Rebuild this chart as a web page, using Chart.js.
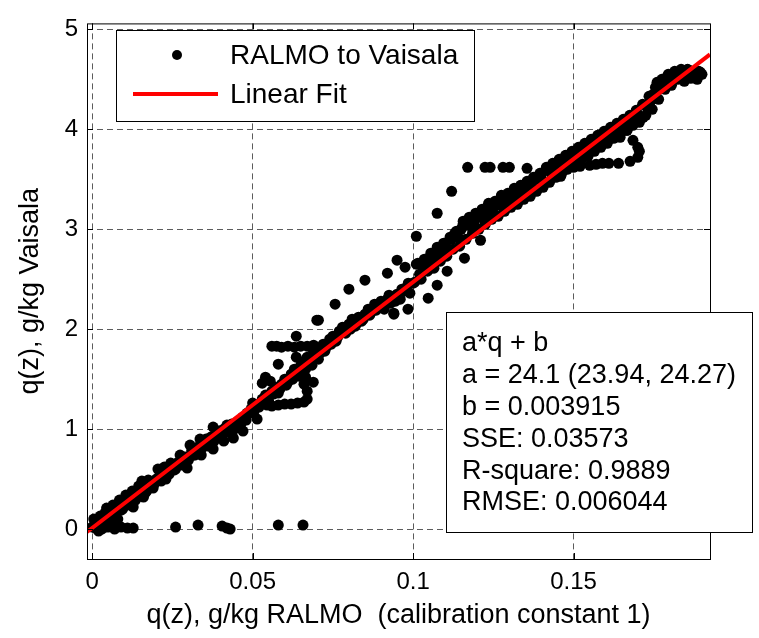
<!DOCTYPE html>
<html>
<head>
<meta charset="utf-8">
<script src="https://cdn.jsdelivr.net/npm/chart.js@4.4.1/dist/chart.umd.min.js"></script>
<style>
  html, body { margin: 0; padding: 0; background: #fff; }
  canvas { display: block; }
</style>
</head>
<body>
<canvas id="fitChart" width="759" height="638"></canvas>
<script>
// RALMO q(z) (x) against Vaisala q(z) (y)
const qRalmo = [
  // dense band 0 - 0.05
  0.000,0.001,0.002,0.003,0.004,0.005,0.006,0.007,0.008,0.009,0.010,0.011,0.012,0.013,0.014,0.015,0.016,0.017,0.018,0.019,
  0.020,0.021,0.022,0.023,0.024,0.025,0.026,0.027,0.028,0.029,0.030,0.031,0.032,0.033,0.034,0.035,0.036,0.037,0.038,0.039,
  0.040,0.041,0.042,0.043,0.044,0.045,0.046,0.047,0.048,0.049,
  0.0005,0.0025,0.0045,0.0065,0.0085,0.0105,0.0125,0.0145,0.0155,0.0175,0.0205,0.0225,0.0245,0.0274,0.0305,0.0336,0.0377,0.0420,0.0483,
  0.002,0.004,0.006,0.008,0.0128,0.016,0.019,0.023,0.0296,0.034,0.0377,0.041,0.044,0.047,
  0.0015,0.0035,0.0055,0.0075,0.0095,0.0115,0.0135,0.0165,0.0185,0.0195,0.0215,0.0235,0.0255,0.0265,0.0285,0.0315,0.0325,0.0345,
  0.0355,0.0365,0.0385,0.0395,0.0405,0.0435,0.0455,0.0465,0.0475,0.0495,
  // points near zero
  0.001,0.003,0.005,0.007,0.009,0.011,0.0128,0.026,0.033,0.0405,0.042,0.043,0.058,0.0657,
  // band 0.05 - 0.1
  0.050,0.0514,0.052,0.053,0.054,0.055,0.056,0.057,0.058,0.059,0.060,0.061,0.062,0.063,0.064,0.065,0.066,0.067,0.068,0.069,
  0.070,0.071,0.072,0.073,0.074,0.075,0.076,0.077,0.078,0.079,0.080,0.081,0.082,0.083,0.084,0.085,0.086,0.087,0.088,0.089,
  0.090,0.091,0.092,0.093,0.094,0.095,0.096,0.097,0.098,0.099,
  0.0505,0.0525,0.0545,0.0565,0.0585,0.0605,0.0625,0.0645,0.0665,0.0685,0.0705,0.0725,0.0745,0.0765,0.0785,0.0805,0.0825,0.0845,
  0.0865,0.0885,0.0905,0.0925,0.0945,0.0965,0.0985,
  0.0705,0.0757,0.080,0.085,0.092,0.095,0.0975,0.101,0.1075,0.112,0.094,0.0984,0.1047,0.1075,0.1106,0.116,0.121,
  // loops near 0.06
  0.056,0.0575,0.059,0.061,0.063,0.065,0.067,0.069,0.0636,0.070,0.053,0.054,0.0555,0.058,0.0636,0.0689,
  0.0545,0.056,0.058,0.060,0.062,0.064,0.066,0.067,0.067,0.066,0.0665,
  // band 0.1 - 0.19
  0.100,0.101,0.102,0.103,0.104,0.105,0.106,0.107,0.108,0.109,0.110,0.111,0.112,0.113,0.114,0.115,0.1156,0.117,0.118,0.119,
  0.120,0.121,0.122,0.123,0.124,0.125,0.126,0.127,0.128,0.129,0.130,0.131,0.132,0.133,0.134,0.135,0.1364,0.137,0.138,0.139,
  0.140,0.141,0.1417,0.143,0.144,0.145,0.1458,0.147,0.148,0.149,0.150,0.151,0.152,0.153,0.154,0.155,0.156,0.157,0.158,0.159,
  0.160,0.161,0.1623,0.163,0.164,0.165,0.166,0.1676,0.169,0.170,0.1717,0.173,0.174,0.1748,0.176,0.176,0.178,0.179,0.180,0.181,
  0.183,0.184,0.186,0.186,0.1885,0.189,0.190,
  0.1005,0.1025,0.1045,0.1065,0.1085,0.1105,0.1125,0.1145,0.1165,0.1185,0.1205,0.1225,0.1245,0.1265,0.1285,0.1305,0.1325,0.1345,
  0.1365,0.1385,0.1405,0.1425,0.1445,0.1465,0.1485,0.1505,0.1525,0.1545,0.1565,0.1585,0.1605,0.1625,0.1645,0.1665,0.1685,0.1705,
  0.1725,0.1745,0.1765,0.1785,0.1805,0.1825,0.1845,0.1865,0.1885,
  0.1015,0.1035,0.1055,0.1075,0.1095,0.1115,0.1135,0.1155,0.1175,0.1195,0.1215,0.1235,0.1255,0.1275,0.1295,0.1315,0.1335,0.1355,
  0.1375,0.1395,0.1415,0.1435,0.1455,0.1475,0.1495,0.1515,0.1535,0.1555,0.1575,0.1595,0.1615,0.1635,0.1655,0.1675,0.1695,0.1715,
  0.1735,0.1755,0.1775,0.1795,0.1815,0.1835,0.1855,0.1875,0.1895,
  // lower loop near 0.16
  0.146,0.148,0.150,0.152,0.155,0.157,0.159,0.161,0.164,0.1676,0.170,0.1705,0.170,0.1685,0.1667,0.1645,0.1636,0.1676,
  // flat row at 3.6
  0.117,0.1224,0.124,0.128,0.130,0.1355
];
const qVaisala = [
  0.02,0.05,0.03,0.10,0.16,0.12,0.18,0.14,0.22,0.19,0.27,0.24,0.31,0.28,0.36,0.33,0.41,0.38,0.47,0.43,
  0.50,0.53,0.51,0.58,0.55,0.63,0.60,0.67,0.64,0.72,0.69,0.78,0.74,0.82,0.80,0.87,0.83,0.92,0.88,0.96,
  0.93,1.00,0.97,1.03,0.99,1.06,1.02,1.12,1.09,1.16,
  0.10,0.13,0.21,0.24,0.29,0.34,0.38,0.43,0.48,0.49,0.60,0.62,0.66,0.74,0.84,0.90,1.02,1.04,1.16,
  -0.02,0.02,0.05,0.10,0.22,0.32,0.41,0.50,0.61,0.74,0.80,0.88,0.91,0.98,
  0.06,0.07,0.15,0.17,0.20,0.25,0.29,0.36,0.42,0.46,0.48,0.57,0.59,0.66,0.69,0.74,0.81,0.84,
  0.90,0.86,0.91,0.98,0.95,1.05,1.08,1.06,1.10,1.20,
  0.01,0.00,0.02,0.00,0.02,0.01,0.01,0.02,0.04,0.03,0.01,0.00,0.04,0.04,
  1.26,1.10,1.22,1.30,1.34,1.28,1.38,1.42,1.36,1.45,1.50,1.47,1.55,1.60,1.57,1.64,1.68,1.72,1.70,1.78,
  1.80,1.76,1.85,1.82,1.90,1.93,1.88,1.98,2.02,1.96,2.05,2.10,2.03,2.12,2.08,2.15,2.20,2.17,2.25,2.22,
  2.28,2.20,2.30,2.26,2.16,2.35,2.30,2.38,2.42,2.36,
  1.18,1.26,1.30,1.35,1.40,1.44,1.50,1.53,1.60,1.64,1.70,1.78,1.85,1.92,1.97,2.00,2.06,2.10,
  2.14,2.19,2.24,2.34,2.28,2.40,2.46,
  2.09,2.25,2.40,2.49,2.56,2.69,2.62,2.93,3.16,3.38,2.15,2.20,2.31,2.44,2.58,2.71,2.89,
  1.83,1.83,1.82,1.83,1.82,1.83,1.83,1.84,1.93,2.09,1.46,1.52,1.48,1.65,1.72,1.47,
  1.24,1.23,1.24,1.25,1.25,1.26,1.27,1.30,1.38,1.45,1.52,
  2.46,2.65,2.55,2.62,2.69,2.60,2.70,2.76,2.72,2.80,2.85,2.80,2.90,2.96,2.92,3.00,3.08,3.04,3.10,3.06,
  3.12,3.14,3.10,3.18,3.20,3.16,3.24,3.28,3.22,3.30,3.32,3.34,3.28,3.36,3.40,3.35,3.43,3.48,3.40,3.50,
  3.55,3.47,3.60,3.56,3.62,3.58,3.69,3.64,3.70,3.66,3.74,3.70,3.82,3.76,3.80,3.84,3.89,3.83,3.90,3.86,
  3.95,3.92,4.02,3.97,4.00,4.06,4.03,4.11,4.08,4.15,4.12,4.21,4.28,4.35,4.38,4.47,4.45,4.52,4.50,4.55,
  4.57,4.52,4.54,4.59,4.50,4.58,4.55,
  2.47,2.50,2.58,2.61,2.68,2.73,2.80,2.83,2.90,2.96,3.00,3.05,3.10,3.13,3.18,3.22,3.25,3.30,
  3.33,3.38,3.42,3.47,3.52,3.57,3.62,3.66,3.70,3.73,3.78,3.82,3.86,3.91,3.95,3.99,4.04,4.07,
  4.14,4.20,4.30,4.40,4.44,4.50,4.48,4.51,4.53,
  2.66,2.70,2.76,2.82,2.86,2.92,2.98,3.04,3.12,3.16,3.20,3.26,3.28,3.34,3.36,3.41,3.44,3.48,
  3.52,3.56,3.62,3.66,3.70,3.74,3.78,3.82,3.86,3.90,3.94,3.98,4.02,4.06,4.10,4.14,4.19,4.25,
  4.33,4.42,4.50,4.55,4.58,4.60,4.60,4.58,4.57,
  3.53,3.60,3.62,3.63,3.64,3.65,3.66,3.66,3.66,3.68,3.72,3.78,3.82,3.89,3.99,3.92,4.05,4.05,
  3.62,3.62,3.62,3.62,3.62,3.61
];

// drawn fit line, end values read at the plot edges
const fitLineY = [-0.03, 4.75];
const fitText = [
  'a*q + b',
  'a = 24.1 (23.94, 24.27)',
  'b = 0.003915',
  'SSE: 0.03573',
  'R-square: 0.9889',
  'RMSE: 0.006044'
];

const xTicks = [0, 0.05, 0.1, 0.15];
const yTicks = [0, 1, 2, 3, 4, 5];
const xMin = -0.0016, xMax = 0.1925;
const yMin = -0.3, yMax = 5.06;

const FONT = '"Liberation Sans", Arial, Helvetica, sans-serif';

var points = qRalmo.map(function(q, i) { return {x: q, y: qVaisala[i]}; });
var fitLine = [{x: xMin, y: fitLineY[0]}, {x: xMax, y: fitLineY[1]}];

// box, inner ticks, legend and fit text
var decorations = {
  id: 'decorations',
  afterDraw: function(chart) {
    var ctx = chart.ctx, a = chart.chartArea;
    var sx = chart.scales.x, sy = chart.scales.y;
    ctx.save();
    ctx.strokeStyle = '#000';
    ctx.lineWidth = 1;
    ctx.strokeRect(a.left + 0.5, a.top + 0.5, a.right - a.left, a.bottom - a.top);

    ctx.beginPath();
    xTicks.forEach(function(v) {
      var px = Math.round(sx.getPixelForValue(v)) + 0.5;
      ctx.moveTo(px, a.bottom); ctx.lineTo(px, a.bottom - 6);
      ctx.moveTo(px, a.top); ctx.lineTo(px, a.top + 6);
    });
    yTicks.forEach(function(v) {
      var py = Math.round(sy.getPixelForValue(v)) + 0.5;
      ctx.moveTo(a.left, py); ctx.lineTo(a.left + 6, py);
      ctx.moveTo(a.right, py); ctx.lineTo(a.right - 6, py);
    });
    ctx.stroke();

    // legend
    var ds = chart.data.datasets;
    ctx.fillStyle = '#fff';
    ctx.fillRect(116, 30, 358, 91);
    ctx.strokeRect(116.5, 30.5, 358, 91);
    ctx.fillStyle = '#000';
    ctx.beginPath();
    ctx.arc(177, 55, 5, 0, Math.PI * 2);
    ctx.fill();
    ctx.strokeStyle = 'red';
    ctx.lineWidth = 4;
    ctx.beginPath();
    ctx.moveTo(133, 94); ctx.lineTo(218, 94);
    ctx.stroke();
    ctx.font = '28px ' + FONT;
    ctx.textBaseline = 'middle';
    ctx.fillText(ds[1].label, 230, 56);
    ctx.fillText(ds[0].label, 230, 95);

    // fit text box
    ctx.lineWidth = 1;
    ctx.strokeStyle = '#000';
    ctx.fillStyle = '#fff';
    ctx.fillRect(446, 312, 306, 220);
    ctx.strokeRect(446.5, 312.5, 306, 220);
    ctx.fillStyle = '#000';
    ctx.font = '27px ' + FONT;
    fitText.forEach(function(t, i) {
      ctx.fillText(t, 462, 344 + i * 31.8);
    });
    ctx.restore();
  }
};

var ctx = document.getElementById('fitChart').getContext('2d');
var chart = new Chart(ctx, {
  type: 'scatter',
  data: {
    datasets: [{
      type: 'line',
      label: 'Linear Fit',
      data: fitLine,
      borderColor: 'red',
      borderWidth: 4,
      pointRadius: 0,
      fill: false,
      order: 0
    }, {
      label: 'RALMO to Vaisala',
      data: points,
      backgroundColor: '#000',
      borderWidth: 0,
      pointRadius: 5.5,
      order: 1
    }]
  },
  options: {
    responsive: false,
    animation: false,
    events: [],
    layout: { padding: { top: 10, right: 49, bottom: 0, left: 0 } },
    plugins: { legend: { display: false }, tooltip: { enabled: false } },
    scales: {
      x: {
        type: 'linear',
        min: xMin, max: xMax,
        afterBuildTicks: function(s) { s.ticks = xTicks.map(function(v) { return {value: v}; }); },
        afterFit: function(s) { s.height = 79; },
        grid: { color: '#5c5c5c', lineWidth: 1, drawTicks: false },
        border: { display: false, dash: [6, 4] },
        ticks: {
          color: '#000', padding: 9, maxRotation: 0,
          font: { family: FONT, size: 24 },
          callback: function(v) { return String(v); }
        },
        title: {
          display: true,
          text: 'q(z), g/kg RALMO  (calibration constant 1)',
          color: '#000',
          font: { family: FONT, size: 27 },
          padding: { top: 0, bottom: 6 }
        }
      },
      y: {
        type: 'linear',
        min: yMin, max: yMax,
        afterBuildTicks: function(s) { s.ticks = yTicks.map(function(v) { return {value: v}; }); },
        afterFit: function(s) { s.width = 87; },
        grid: { color: '#5c5c5c', lineWidth: 1, drawTicks: false },
        border: { display: false, dash: [6, 4] },
        ticks: {
          color: '#000', padding: 9,
          font: { family: FONT, size: 24 },
          callback: function(v) { return String(v); }
        },
        title: {
          display: true,
          text: 'q(z), g/kg Vaisala',
          color: '#000',
          font: { family: FONT, size: 27 },
          padding: { top: 14, bottom: 0 }
        }
      }
    }
  },
  plugins: [decorations]
});
</script>
</body>
</html>
